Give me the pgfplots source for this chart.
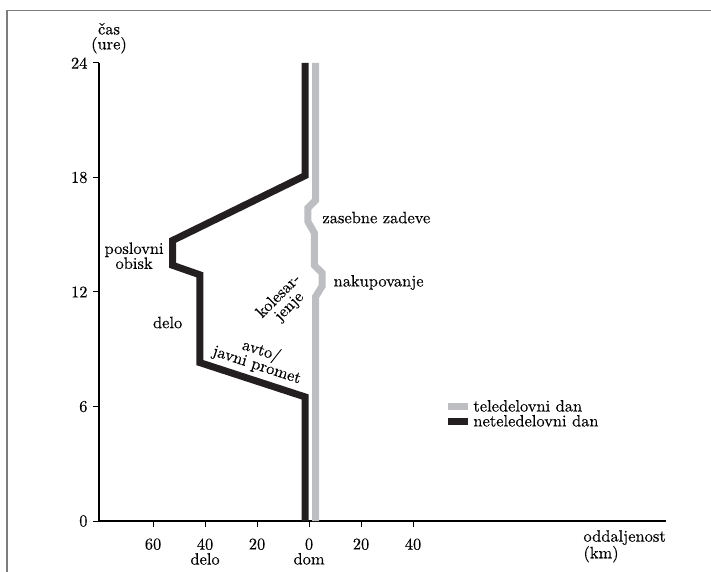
\documentclass[border=0pt]{standalone}
\usepackage{fontspec}
\setmainfont{lmroman10-regular}[Extension=.otf, FakeBold=0.3]
\usepackage{pgfplots}
\pgfplotsset{compat=1.18}
\usetikzlibrary{calc}
\definecolor{lgray}{RGB}{189,190,193}
\definecolor{dblack}{RGB}{35,31,32}
\definecolor{frame}{RGB}{125,125,125}
\newcommand{\myf}{\fontsize{16.5}{15}\selectfont}
\begin{document}
\begin{tikzpicture}
\begin{axis}[
  scale only axis,
  width=567bp, height=458bp,
  xmin=-80.8, xmax=137.3,
  ymin=0, ymax=24,
  axis x line=bottom, axis y line=left,
  axis line style={-, line width=1.1bp, black},
  /pgf/number format/assume math mode=true,
  xtick={-60,-40,-20,0,20,40},
  xticklabels={60,{40\\delo},20,{0\\dom},20,40},
  xticklabel style={align=center, font=\myf, yshift=-8bp},
  ytick={0,6,12,18,24},
  yticklabel style={font=\myf, xshift=-2bp},
  tick align=outside,
  major tick length=6bp,
  tick style={black, line width=1bp},
  clip=false,
  legend style={draw=none, fill=none, font=\myf, at={(axis cs:52,6.45)}, anchor=north west, row sep=-2bp, inner sep=0pt},
  legend cell align=left,
  legend image code/.code={\draw[#1] (0bp,0bp) -- (20bp,0bp);},
]
\addplot[lgray, line width=7bp, line join=miter, line cap=butt] coordinates {
(2.5,0) (2.5,11.75) (5,12.3) (5,13.0) (2,13.4) (2,15.1) (-0.5,15.7) (-0.5,16.4) (2.5,16.8) (2.5,24)};
\addlegendentry{teledelovni dan}
\addplot[dblack, line width=7bp, line join=miter, line cap=butt] coordinates {
(-1.5,0) (-1.5,6.5) (-42,8.3) (-42,12.9) (-52.5,13.4) (-52.5,14.7) (-1.5,18.1) (-1.5,24)};
\addlegendentry{neteledelovni dan}
\node[font=\myf, anchor=west] at (axis cs:3.8,15.9) {zasebne zadeve};
\node[font=\myf, anchor=west] at (axis cs:8.1,12.5) {nakupovanje};
\node[font=\myf, align=center] at (axis cs:-67.3,13.9) {poslovni\\obisk};
\node[font=\myf] at (axis cs:-54.4,10.4) {delo};
\node[font=\myf, align=center, rotate=45] at (axis cs:-9.6,11.5) {kolesar-\\jenje};
\node[font=\myf, align=center, rotate=-18] at (axis cs:-19.2,8.54) {avto/\\javni promet};
\node[font=\myf, align=left, anchor=north east, inner sep=0pt] at ($(rel axis cs:1,0)+(0bp,-9bp)$) {oddaljenost\\(km)};
\node[font=\myf, align=center, anchor=south] at ($(rel axis cs:0,1)+(10bp,6bp)$) {čas\\(ure)};
\coordinate (O) at (rel axis cs:0,0);
\end{axis}
\pgfresetboundingbox
\path[use as bounding box] ($(O)+(-99bp,-51bp)$) rectangle ++(711bp,572bp);
\draw[frame, line width=1.5bp] ($(O)+(-92bp,-60bp)$) -- ($(O)+(-92bp,510.5bp)$) -- ($(O)+(620bp,510.5bp)$);
\end{tikzpicture}
\end{document}
